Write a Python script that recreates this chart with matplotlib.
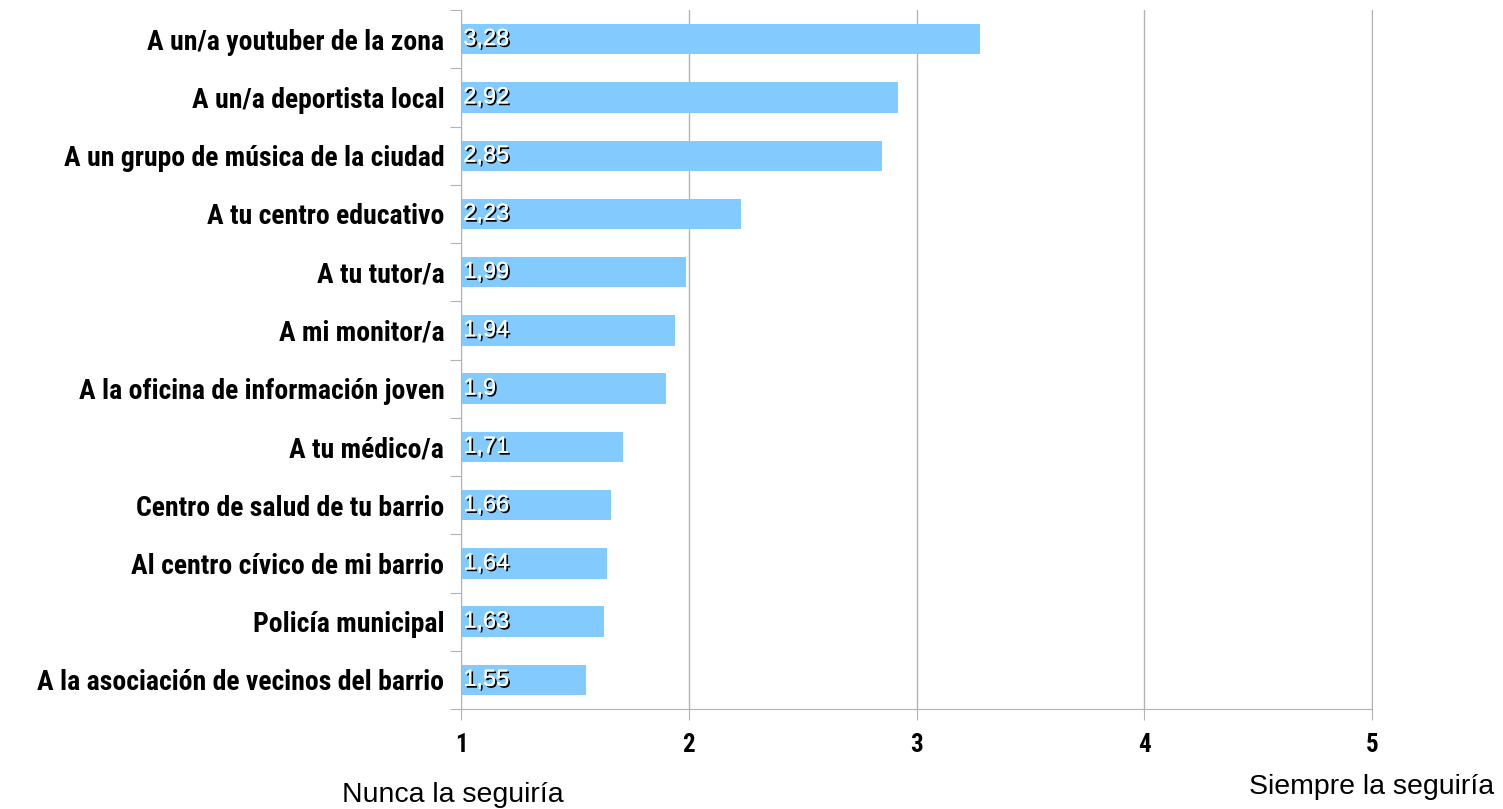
import numpy as np
import matplotlib.pyplot as plt
import matplotlib.patheffects as pe
from matplotlib import font_manager

categorias = ['A un/a youtuber de la zona', 'A un/a deportista local',
              'A un grupo de música de la ciudad', 'A tu centro educativo',
              'A tu tutor/a', 'A mi monitor/a', 'A la oficina de información joven',
              'A tu médico/a', 'Centro de salud de tu barrio', 'Al centro cívico de mi barrio',
              'Policía municipal', 'A la asociación de vecinos del barrio']
valores = [3.28, 2.92, 2.85, 2.23, 1.99, 1.94, 1.9, 1.71, 1.66, 1.64, 1.63, 1.55]
etiquetas = ['3,28', '2,92', '2,85', '2,23', '1,99', '1,94', '1,9', '1,71', '1,66', '1,64', '1,63', '1,55']
xticks = [1, 2, 3, 4, 5]

# buscar una fuente estrecha con negrita
nombres = set(f.name for f in font_manager.fontManager.ttflist)
estrecha = 'Liberation Sans'
for cand in ['Liberation Sans Narrow', 'Roboto Condensed']:
    if cand in nombres:
        estrecha = cand
        break
narrow = [estrecha, 'DejaVu Sans']
normal = ['Liberation Sans', 'DejaVu Sans']

fig = plt.figure(figsize=(15.03, 8.09), dpi=100)
ax = fig.add_axes([0.3067, 0.1236, 0.6062, 0.864])

n = len(categorias)
y = np.arange(n)[::-1]
ax.barh(y, np.array(valores) - 1, left=1, height=0.52, color='#83CAFF', zorder=2)

sombra = [pe.withSimplePatchShadow(offset=(1.3, -1.3), shadow_rgbFace='black', alpha=1.0), pe.Normal()]
for yi, v, t in zip(y, valores, etiquetas):
    ax.text(1.01, yi, t, va='center', ha='left', color='white', fontsize=17,
            family=normal, path_effects=sombra, zorder=3)

ax.set_xlim(1, 5)
ax.set_ylim(-0.5, n - 0.5)
ax.set_xticks(xticks)
ax.set_xticklabels([str(x) for x in xticks], family=narrow, fontweight='bold', fontsize=18)
ax.set_yticks(np.arange(n + 1) - 0.5)
ax.set_yticklabels([])
ax.set_yticks(y, minor=True)
ax.set_yticklabels(categorias, minor=True, family=narrow, fontweight='bold', fontsize=20)
ax.tick_params(axis='y', which='minor', length=0, pad=12)
ax.tick_params(axis='y', which='major', length=8, color='#b3b3b3')
ax.tick_params(axis='x', length=8, color='#b3b3b3', pad=9)
ax.grid(axis='x', color='#b3b3b3', linewidth=1, zorder=1)
ax.spines['top'].set_visible(False)
for s in ['left', 'bottom', 'right']:
    ax.spines[s].set_color('#b3b3b3')

fig.text(453 / 1503, 1 - 795 / 809, 'Nunca la seguiría', ha='center', va='center',
         fontsize=20.5, family=normal)
fig.text(1372 / 1503, 1 - 787 / 809, 'Siempre la seguiría', ha='center', va='center',
         fontsize=20.5, family=normal)

fig.savefig('out.png', dpi=100)
